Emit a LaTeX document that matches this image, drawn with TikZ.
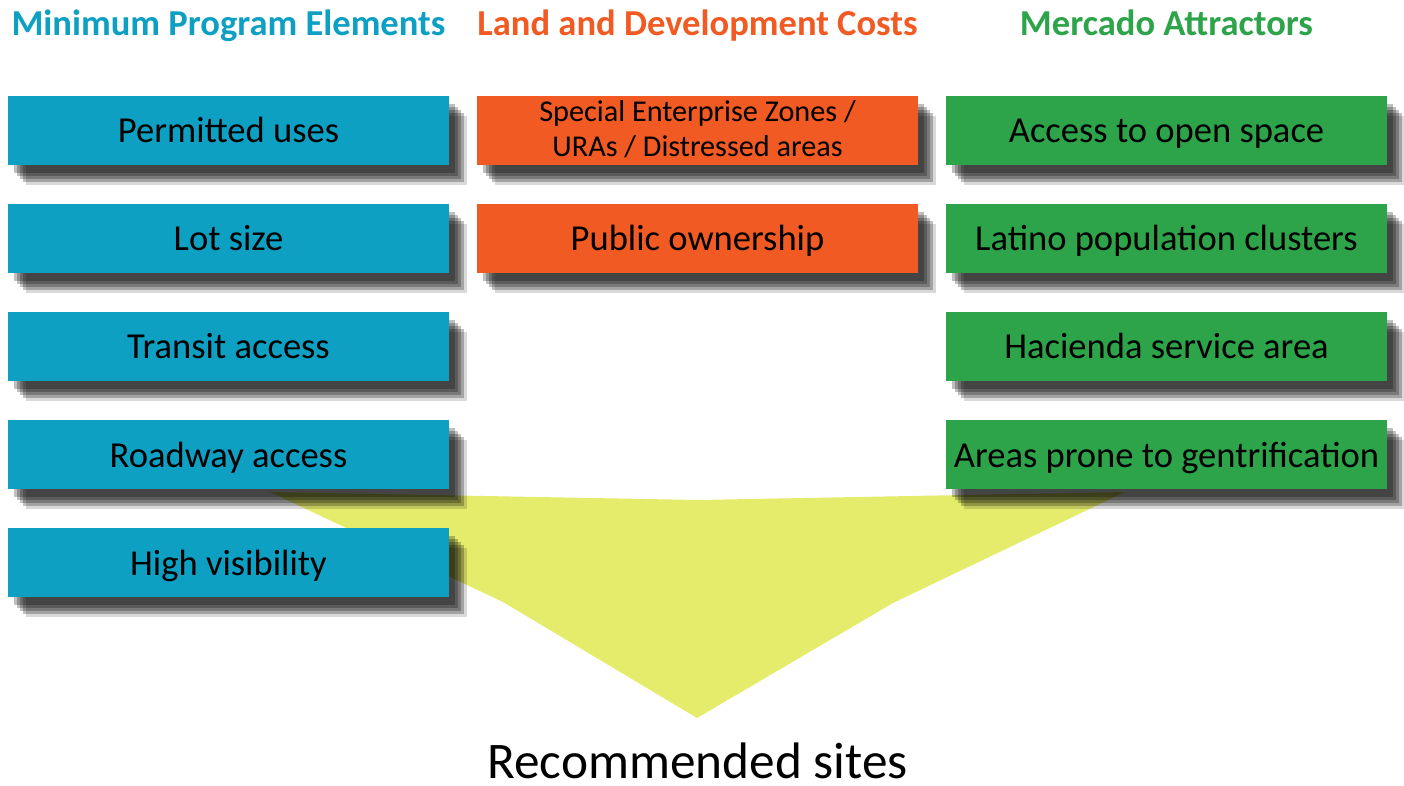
\documentclass[tikz,border=0pt]{standalone}
\usepackage{fontspec}
\setmainfont{Carlito}
\usetikzlibrary{shapes, shadows}
\definecolor{progblue}{RGB}{14,160,194}
\definecolor{costorange}{RGB}{241,90,34}
\definecolor{attrgreen}{RGB}{46,164,74}
\definecolor{funnelyellow}{RGB}{229,235,107}
\tikzstyle{card} = [rectangle, minimum width=4.41cm, minimum height=0.69cm, inner sep=0pt, text centered, text height=0.32cm, text depth=0.07cm, font=\fontsize{10.4}{12}\selectfont,
    drop shadow={shadow xshift=0.06cm, shadow yshift=-0.08cm, fill=black, opacity=0.25},
    drop shadow={shadow xshift=0.09cm, shadow yshift=-0.11cm, fill=black, opacity=0.25},
    drop shadow={shadow xshift=0.12cm, shadow yshift=-0.14cm, fill=black, opacity=0.25},
    drop shadow={shadow xshift=0.15cm, shadow yshift=-0.17cm, fill=black, opacity=0.25},
    drop shadow={shadow xshift=0.18cm, shadow yshift=-0.20cm, fill=black, opacity=0.15}]
\tikzstyle{program} = [card, fill=progblue]
\tikzstyle{cost} = [card, fill=costorange]
\tikzstyle{attractor} = [card, fill=attrgreen]
\tikzstyle{heading} = [font=\bfseries\fontsize{10.4}{12}\selectfont, anchor=base]

\begin{document}
\begin{tikzpicture}[node distance=1.08cm, align=center]
    \useasboundingbox (0,0) rectangle (14.04,-7.86);

    % Funnel
    \fill [funnelyellow] (2.70,-4.92) -- (6.98,-5.00) -- (11.25,-4.92) -- (8.93,-6.03) -- (6.97,-7.18) -- (5.03,-6.02) -- cycle;

    % Headings
    \node (progHead) [heading, text=progblue] at (2.285,-0.36) {Minimum Program Elements};
    \node (costHead) [heading, text=costorange] at (6.975,-0.36) {Land and Development Costs};
    \node (attrHead) [heading, text=attrgreen] at (11.665,-0.36) {Mercado Attractors};

    % Minimum program elements
    \node (permitted) [program] at (2.285,-1.305) {Permitted uses};
    \node (lotSize) [program, below of=permitted] {Lot size};
    \node (transit) [program, below of=lotSize] {Transit access};
    \node (roadway) [program, below of=transit] {Roadway access};
    \node (visibility) [program, below of=roadway] {High visibility};

    % Land and development costs
    \node (enterprise) [cost, text height=0.60cm, text depth=0.07cm, font=\fontsize{8.6}{10}\selectfont] at (6.975,-1.305) {Special Enterprise Zones /\\URAs / Distressed areas};
    \node (publicOwn) [cost, below of=enterprise] {Public ownership};

    % Mercado attractors
    \node (openSpace) [attractor] at (11.665,-1.305) {Access to open space};
    \node (latino) [attractor, below of=openSpace] {Latino population clusters};
    \node (hacienda) [attractor, below of=latino] {Hacienda service area};
    \node (gentrify) [attractor, below of=hacienda] {Areas prone to gentrification};

    % Result
    \node (sites) [font=\fontsize{14.6}{16}\selectfont, inner sep=0pt, anchor=base] at (6.975,-7.78) {Recommended sites};

\end{tikzpicture}
\end{document}
